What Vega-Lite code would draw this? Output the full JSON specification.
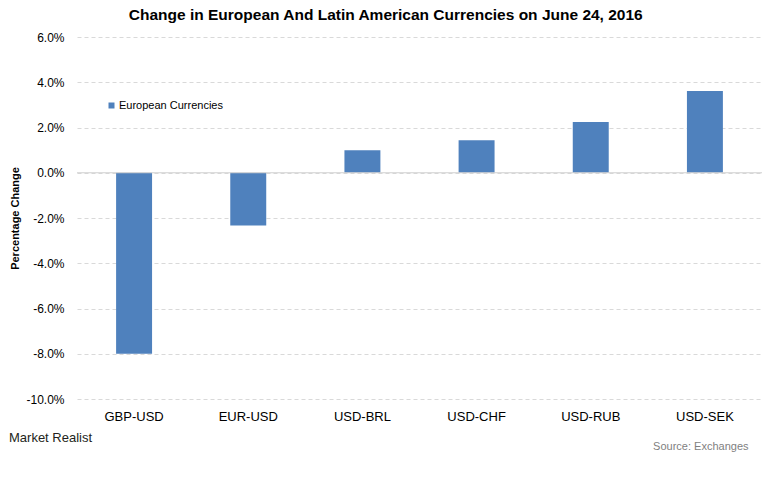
{
  "$schema": "https://vega.github.io/schema/vega-lite/v6.json",
  "padding": {"left": 9, "top": 8, "right": 16, "bottom": 24},
  "background": "white",
  "title": {
    "text": "Change in European And Latin American Currencies on June 24, 2016",
    "anchor": "middle",
    "frame": "bounds",
    "font": "Liberation Sans",
    "fontSize": 15.5,
    "fontWeight": "bold",
    "color": "#000000",
    "offset": 7.5
  },
  "vconcat": [
    {
      "width": 685,
      "height": 362,
      "title": {
        "text": "Market Realist",
        "orient": "bottom",
        "anchor": "start",
        "frame": "bounds",
        "font": "Liberation Sans",
        "fontSize": 13,
        "fontWeight": "normal",
        "color": "#231F20",
        "offset": -19
      },
      "data": {
        "values": [
          {"pair": "GBP-USD", "change": -8.0, "series": "European Currencies"},
          {"pair": "EUR-USD", "change": -2.33, "series": "European Currencies"},
          {"pair": "USD-BRL", "change": 0.99, "series": "European Currencies"},
          {"pair": "USD-CHF", "change": 1.44, "series": "European Currencies"},
          {"pair": "USD-RUB", "change": 2.24, "series": "European Currencies"},
          {"pair": "USD-SEK", "change": 3.61, "series": "European Currencies"}
        ]
      },
      "layer": [
        {
          "mark": {"type": "bar"},
          "encoding": {
            "x": {
              "field": "pair",
              "type": "nominal",
              "sort": null,
              "scale": {"paddingInner": 0.685, "paddingOuter": 0.3425},
              "axis": {
                "title": "Source: Exchanges",
                "titleX": 671,
                "titleY": 50,
                "titleAlign": "right",
                "titleAnchor": null,
                "titleBaseline": "alphabetic",
                "titleFont": "Liberation Sans",
                "titleFontSize": 11,
                "titleFontWeight": "normal",
                "titleColor": "#7F7F7F",
                "labelAngle": 0,
                "labelFont": "Liberation Sans",
                "labelFontSize": 13,
                "labelColor": "#000000",
                "labelPadding": 11,
                "ticks": false,
                "domain": false,
                "grid": false
              }
            },
            "y": {
              "field": "change",
              "type": "quantitative",
              "scale": {"domain": [-10, 6], "nice": false, "zero": false},
              "axis": {
                "title": "Percentage Change",
                "titleX": -62,
                "titleY": 181,
                "titleAngle": -90,
                "titleAlign": "center",
                "titleBaseline": "middle",
                "titleFont": "Liberation Sans",
                "titleFontSize": 11,
                "titleFontWeight": "bold",
                "titleColor": "#000000",
                "values": [-10, -8, -6, -4, -2, 0, 2, 4, 6],
                "labelExpr": "(datum.value < 0 ? '-' : '') + format(abs(datum.value), '.1f') + '%'",
                "labelFont": "Liberation Sans",
                "labelFontSize": 12,
                "labelColor": "#000000",
                "labelPadding": 13,
                "ticks": false,
                "domain": false,
                "grid": true,
                "gridColor": "#D9D9D9",
                "gridDash": [4, 3],
                "gridWidth": 1
              }
            },
            "color": {
              "field": "series",
              "type": "nominal",
              "scale": {"range": ["#4F81BD"]},
              "legend": {
                "title": null,
                "orient": "none",
                "legendX": 29,
                "legendY": 63,
                "padding": 0,
                "symbolType": "square",
                "symbolSize": 36,
                "symbolStrokeWidth": 0,
                "labelFont": "Liberation Sans",
                "labelFontSize": 11,
                "labelColor": "#000000",
                "labelOffset": 2
              }
            }
          }
        },
        {
          "data": {"values": [{"zero": 0}]},
          "mark": {"type": "rule", "color": "#D0D0D0", "strokeWidth": 1},
          "encoding": {"y": {"field": "zero", "type": "quantitative"}}
        }
      ]
    }
  ],
  "config": {"view": {"stroke": null}}
}
